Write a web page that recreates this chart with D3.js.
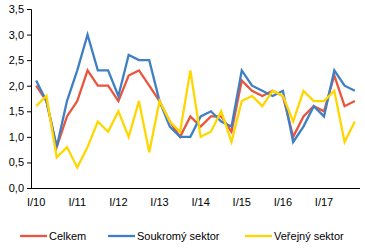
<!DOCTYPE html>
<html>
<head>
<meta charset="utf-8">
<script src="https://cdn.jsdelivr.net/npm/d3@7"></script>
<style>
  body { margin: 0; background: #fff; }
  svg text { font-family: "Liberation Sans", Arial, sans-serif; font-size: 11px; fill: #000; }
</style>
</head>
<body>
<svg id="chart" width="365" height="250"></svg>
<script>
// quarters I/10 .. IV/17
const years = ['10', '11', '12', '13', '14', '15', '16', '17'];
const quarters = years.flatMap(y => ['I', 'II', 'III', 'IV'].map(q => `${q}/${y}`));

const celkem = [2.0, 1.7, 0.8, 1.4, 1.7, 2.3, 2.0, 2.0, 1.7, 2.2, 2.3, 2.0, 1.7, 1.3, 1.0, 1.4,
                1.2, 1.4, 1.4, 1.1, 2.1, 1.9, 1.8, 1.9, 1.8, 1.0, 1.4, 1.6, 1.5, 2.2, 1.6, 1.7];
const soukromy = [2.1, 1.7, 0.8, 1.7, 2.3, 3.0, 2.3, 2.3, 1.8, 2.6, 2.5, 2.5, 1.7, 1.2, 1.0, 1.0,
                  1.4, 1.5, 1.3, 1.2, 2.3, 2.0, 1.9, 1.8, 1.9, 0.9, 1.2, 1.6, 1.4, 2.3, 2.0, 1.9];
const verejny = [1.6, 1.8, 0.6, 0.8, 0.4, 0.8, 1.3, 1.1, 1.5, 1.0, 1.7, 0.7, 1.7, 1.3, 1.1, 2.3,
                 1.0, 1.1, 1.5, 0.9, 1.7, 1.8, 1.6, 1.9, 1.8, 1.3, 1.9, 1.7, 1.7, 1.9, 0.9, 1.3];
const yTicks = [0, 0.5, 1, 1.5, 2, 2.5, 3, 3.5];

const series = [
  { name: 'Celkem', values: celkem, color: '#E9553D' },
  { name: 'Soukromý sektor', values: soukromy, color: '#3F7FC3' },
  { name: 'Veřejný sektor', values: verejny, color: '#FFD700' }
];

const svg = d3.select('#chart');
const plotLeft = 31, plotRight = 360, plotTop = 9, plotBottom = 188;

const x = d3.scaleBand().domain(quarters).range([plotLeft, plotRight]);
const y = d3.scaleLinear().domain([0, 3.5]).range([plotBottom, plotTop]);
const fmt = v => d3.format('.1f')(v).replace('.', ',');

// y axis
const yAxis = svg.append('g')
  .attr('transform', `translate(${plotLeft},0)`)
  .call(d3.axisLeft(y).tickValues(yTicks).tickFormat(fmt).tickSize(4).tickPadding(3));
yAxis.select('.domain').attr('stroke', '#000');
yAxis.selectAll('.tick line').attr('stroke', '#000');
yAxis.selectAll('text').style('font-size', '11px');

// x axis
const xAxis = svg.append('g')
  .attr('transform', `translate(0,${plotBottom})`)
  .call(d3.axisBottom(x)
    .tickValues(quarters.filter(q => q.startsWith('I/')))
    .tickSize(0).tickPadding(10));
xAxis.select('.domain').attr('stroke', '#000').attr('d', `M${plotLeft},0.5H${plotRight}`);
xAxis.selectAll('text').style('font-size', '11px');

const line = d3.line()
  .x((d, i) => x(quarters[i]) + x.bandwidth() / 2)
  .y(d => y(d));

svg.append('g').selectAll('path')
  .data(series)
  .enter()
  .append('path')
  .attr('d', d => line(d.values))
  .attr('fill', 'none')
  .attr('stroke', d => d.color)
  .attr('stroke-width', 2.3)
  .attr('stroke-linejoin', 'miter');

// legend
const legendX = [20, 108, 245];
const legend = svg.append('g').selectAll('g')
  .data(series)
  .enter()
  .append('g')
  .attr('transform', (d, i) => `translate(${legendX[i]},236)`);

legend.append('line')
  .attr('x1', 0).attr('x2', 27)
  .attr('stroke', d => d.color)
  .attr('stroke-width', 2.3);

legend.append('text')
  .attr('x', 29)
  .attr('dy', '0.35em')
  .text(d => d.name);
</script>
</body>
</html>
